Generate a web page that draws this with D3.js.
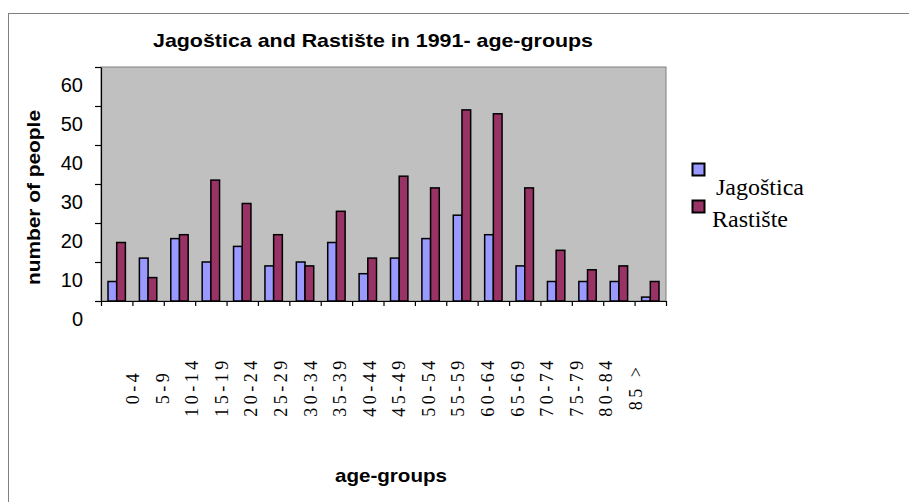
<!DOCTYPE html>
<html>
<head>
<meta charset="utf-8">
<script src="https://cdn.jsdelivr.net/npm/d3@7"></script>
<style>
  body { margin: 0; background: #fff; }
</style>
</head>
<body>
<div id="chart"></div>
<script>
// data
var ageGroups = ["0-4", "5-9", "10-14", "15-19", "20-24", "25-29", "30-34", "35-39", "40-44",
                 "45-49", "50-54", "55-59", "60-64", "65-69", "70-74", "75-79", "80-84", "85 >"];
var jagostica = [5, 11, 16, 10, 14, 9, 10, 15, 7, 11, 16, 22, 17, 9, 5, 5, 5, 1];
var rastiste  = [15, 6, 17, 31, 25, 17, 9, 23, 11, 32, 29, 49, 48, 29, 13, 8, 9, 5];
var seriesNames = ["Jagoštica", "Rastište"];
var yTicks = [0, 10, 20, 30, 40, 50, 60];

var colors = { "Jagoštica": "#9999FF", "Rastište": "#993366" };

var svgWidth = 909;
var svgHeight = 502;

// plot area
var plot = { left: 101, right: 666, top: 67, bottom: 301 };

var svg = d3.select("#chart")
    .append("svg")
    .attr("width", svgWidth)
    .attr("height", svgHeight)
    .style("font-family", "'Liberation Sans', Arial, sans-serif");

// outer chart border (runs off the right and bottom edge)
svg.append("rect")
    .attr("x", 8.5).attr("y", 13.5)
    .attr("width", 920).attr("height", 520)
    .attr("fill", "none")
    .attr("stroke", "#808080");

// scales
var x0 = d3.scaleBand()
    .domain(ageGroups)
    .range([plot.left, plot.right])
    .paddingInner(0.446)
    .paddingOuter(0.223);

var x1 = d3.scaleBand()
    .domain(seriesNames)
    .range([0, x0.bandwidth()]);

var xBounds = d3.scaleLinear()
    .domain([0, ageGroups.length])
    .range([plot.left, plot.right]);

// the tick labels sit a bit off from the bars in the original
var xLabel = d3.scalePoint()
    .domain(ageGroups)
    .range([139, 642]);

var y = d3.scaleLinear()
    .domain([0, 60])
    .range([plot.bottom, plot.top]);

// plot background
svg.append("rect")
    .attr("x", plot.left)
    .attr("y", plot.top)
    .attr("width", plot.right - plot.left)
    .attr("height", plot.bottom - plot.top)
    .attr("fill", "#C0C0C0")
    .attr("stroke", "#808080")
    .attr("stroke-width", 1);

// bars
var rows = ageGroups.map(function(g, i) {
    return { group: g, values: [
        { name: "Jagoštica", value: jagostica[i] },
        { name: "Rastište", value: rastiste[i] }
    ] };
});

var groups = svg.append("g").selectAll("g")
    .data(rows)
    .enter().append("g")
    .attr("transform", d => `translate(${x0(d.group)},0)`);

groups.selectAll("rect")
    .data(d => d.values)
    .enter().append("rect")
    .attr("x", d => x1(d.name))
    .attr("y", d => y(d.value))
    .attr("width", x1.bandwidth())
    .attr("height", d => y(0) - y(d.value))
    .attr("fill", d => colors[d.name])
    .attr("stroke", "#000")
    .attr("stroke-width", 1.5);

// y axis
var leftAxis = d3.axisLeft(y)
    .tickValues(yTicks)
    .tickSize(6)
    .tickSizeOuter(0);

var yAxisG = svg.append("g")
    .attr("transform", `translate(${plot.left},0)`)
    .call(leftAxis);

yAxisG.select(".domain").attr("stroke", "#000").attr("stroke-width", 1.2);
yAxisG.selectAll(".tick line").attr("stroke", "#000").attr("stroke-width", 1.2);
yAxisG.selectAll(".tick text")
    .attr("x", -18)
    .attr("dy", 24.5)
    .attr("font-size", 20)
    .attr("font-family", "'Liberation Sans', Arial, sans-serif")
    .attr("fill", "#000");

// x axis (ticks at category boundaries, no labels)
var bottomAxis = d3.axisBottom(xBounds)
    .ticks(ageGroups.length)
    .tickSize(5)
    .tickSizeOuter(0)
    .tickFormat("");

var xAxisG = svg.append("g")
    .attr("transform", `translate(0,${plot.bottom})`)
    .call(bottomAxis);

xAxisG.select(".domain").attr("stroke", "#000").attr("stroke-width", 1.2);
xAxisG.selectAll(".tick line").attr("stroke", "#000").attr("stroke-width", 1.2);

// rotated category labels
svg.append("g").selectAll("text")
    .data(ageGroups)
    .enter().append("text")
    .attr("transform", d => `translate(${xLabel(d)},387) rotate(-90)`)
    .attr("text-anchor", "middle")
    .attr("font-family", "'Liberation Serif', 'Times New Roman', serif")
    .attr("font-size", 18)
    .attr("letter-spacing", 3.5)
    .attr("fill", "#000")
    .text(d => d);

// titles
svg.append("text")
    .attr("x", 373)
    .attr("y", 47)
    .attr("text-anchor", "middle")
    .attr("font-weight", "bold")
    .attr("font-size", 18.5)
    .attr("textLength", 440)
    .attr("lengthAdjust", "spacingAndGlyphs")
    .text("Jagoštica and Rastište in 1991- age-groups");

svg.append("text")
    .attr("transform", "translate(40,197.5) rotate(-90)")
    .attr("text-anchor", "middle")
    .attr("font-weight", "bold")
    .attr("font-size", 18.5)
    .attr("textLength", 175)
    .attr("lengthAdjust", "spacingAndGlyphs")
    .text("number of people");

svg.append("text")
    .attr("x", 391)
    .attr("y", 482)
    .attr("text-anchor", "middle")
    .attr("font-weight", "bold")
    .attr("font-size", 19)
    .attr("textLength", 112)
    .attr("lengthAdjust", "spacingAndGlyphs")
    .text("age-groups");

// legend
var legendItems = [
    { name: seriesNames[0], boxY: 163.5, textX: 716, textY: 195 },
    { name: seriesNames[1], boxY: 200.5, textX: 712, textY: 227 }
];

var legend = svg.append("g");

legend.selectAll("rect")
    .data(legendItems)
    .enter().append("rect")
    .attr("x", 692.5)
    .attr("y", d => d.boxY)
    .attr("width", 12)
    .attr("height", 12)
    .attr("fill", d => colors[d.name])
    .attr("stroke", "#000")
    .attr("stroke-width", 2);

legend.selectAll("text")
    .data(legendItems)
    .enter().append("text")
    .attr("x", d => d.textX)
    .attr("y", d => d.textY)
    .attr("font-family", "'Liberation Serif', 'Times New Roman', serif")
    .attr("font-size", 24)
    .attr("fill", "#000")
    .text(d => d.name);
</script>
</body>
</html>
